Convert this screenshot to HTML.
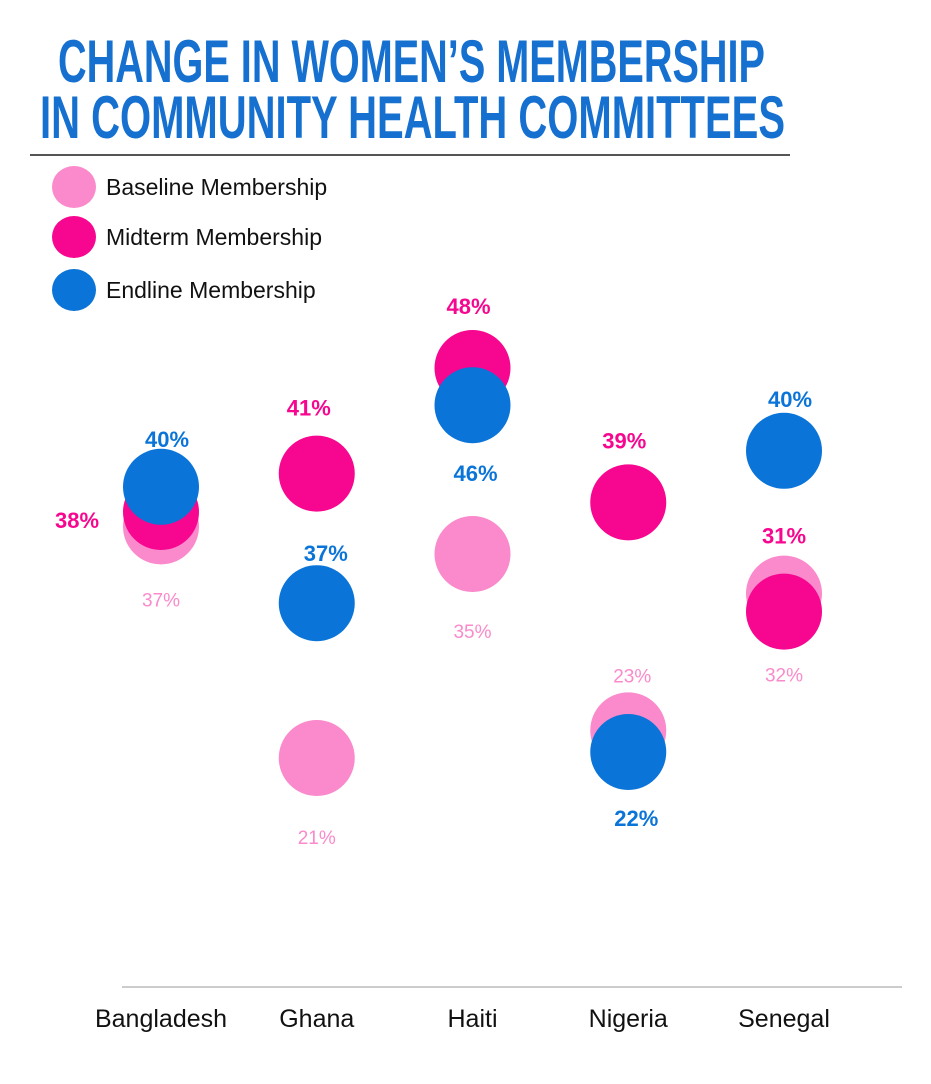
<!DOCTYPE html>
<html><head><meta charset="utf-8"><style>
html,body{margin:0;padding:0;background:#fff;}
svg{display:block;font-family:"Liberation Sans",sans-serif;}
</style></head><body>
<svg id="chart" width="931" height="1084" viewBox="0 0 931 1084">
<g fill="#1570cf" font-weight="bold" font-size="60">
<text x="58" y="82" textLength="707" lengthAdjust="spacingAndGlyphs">CHANGE IN WOMEN’S MEMBERSHIP</text>
<text x="40" y="138" textLength="745" lengthAdjust="spacingAndGlyphs">IN COMMUNITY HEALTH COMMITTEES</text>
</g>
<line x1="30" y1="155" x2="790" y2="155" stroke="#555" stroke-width="2"/>
<g font-size="23" fill="#111">
<g><ellipse cx="74" cy="187" rx="22" ry="21" fill="#fa8acb"/><text x="106" y="195">Baseline Membership</text></g>
<g><ellipse cx="74" cy="237" rx="22" ry="21" fill="#f7068f"/><text x="106" y="245">Midterm Membership</text></g>
<g><ellipse cx="74" cy="290" rx="22" ry="21" fill="#0a74d8"/><text x="106" y="298">Endline Membership</text></g>
</g>
<g id="marks"></g>
<line x1="122" y1="987" x2="902" y2="987" stroke="#ccc" stroke-width="2"/>
<g id="xlabels"></g>
</svg>
<script>
const categories = ["Bangladesh","Ghana","Haiti","Nigeria","Senegal"];
// plotted positions (in chart value units)
const baselinePos = [35.3, 16.0, 33.0, 18.3, 29.7];
const midtermPos  = [36.5, 39.7, 48.5, 37.3, 28.2];
const endlinePos  = [38.6, 28.9, 45.4, 16.5, 41.6];
// printed labels
const baselineLabels = ["37%","21%","35%","23%","32%"];
const midtermLabels  = ["38%","41%","48%","39%","31%"];
const endlineLabels  = ["40%","37%","46%","22%","40%"];

const NS="http://www.w3.org/2000/svg";
function xScale(i){ return 161 + i*155.75; }
function yScale(v){ return 950 - v*12; }
const R = 38;
const marks = document.getElementById('marks');
function mk(tag, attrs, parent){
  const e=document.createElementNS(NS,tag);
  for(const k in attrs) e.setAttribute(k, attrs[k]);
  parent.appendChild(e); return e;
}
// label offsets (layout only)
const baseOff = [[0,72],[0,78],[0,76],[4,-56],[0,80]];
const midOff  = [[-84,8],[-8,-66],[-4,-62],[-4,-62],[0,-76]];
const endOff  = [[6,-48],[9,-50],[3,68],[8,66],[6,-52]];
const series = [
 {name:'baseline', pos:baselinePos, labels:baselineLabels, color:'#fa8acb', off:baseOff, bold:false, size:19},
 {name:'midterm', pos:midtermPos, labels:midtermLabels, color:'#f7068f', off:midOff, bold:true, size:22},
 {name:'endline', pos:endlinePos, labels:endlineLabels, color:'#0a74d8', off:endOff, bold:true, size:22}
];
series.forEach(s=>{
  s.pos.forEach((v,i)=>{
    const c = mk('circle',{cx:xScale(i), cy:yScale(v), r:R, fill:s.color}, marks);
    
    
  });
});
series.forEach(s=>{
  s.pos.forEach((v,i)=>{
    const t = mk('text',{x:xScale(i)+s.off[i][0], y:yScale(v)+s.off[i][1]+8, 'text-anchor':'middle', fill:s.color, 'font-size':s.size, 'font-weight':s.bold?'bold':'normal'}, marks);
    t.textContent = s.labels[i];
    
    
  });
});
const xl = document.getElementById('xlabels');
categories.forEach((c,i)=>{
  const t = mk('text',{x:xScale(i), y:1027, 'text-anchor':'middle', 'font-size':25, fill:'#111'}, xl);
  t.textContent = c;
  
  
});
</script>
</body></html>
